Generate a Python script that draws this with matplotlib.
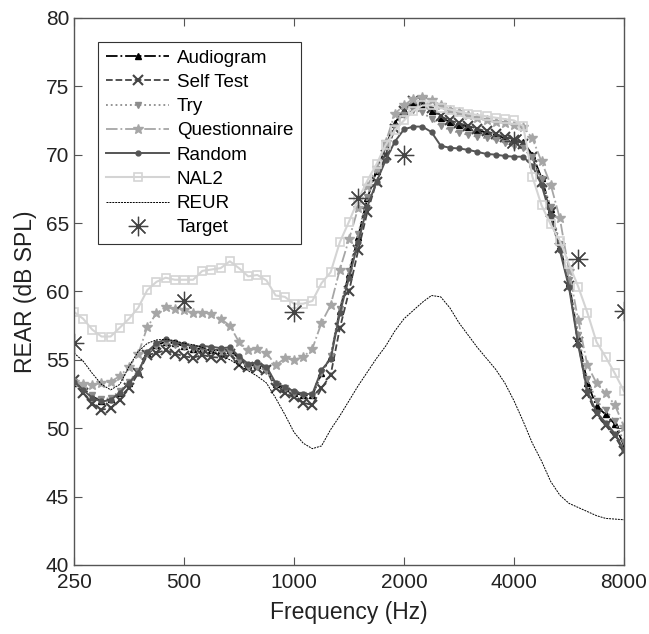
import numpy as np
import matplotlib
matplotlib.use('Agg')
import matplotlib.pyplot as plt

plt.rcParams['font.family'] = ['Liberation Sans', 'DejaVu Sans']

# 1/12-octave frequencies 250 .. 8000 Hz
freqs = [250 * 2 ** (k / 12) for k in range(61)]

audiogram = [53.3, 52.9, 52.3, 52.0, 52.1, 52.6, 53.3, 54.1, 55.5, 56.1,
             56.3, 56.2, 56.0, 55.8, 55.8, 55.7, 55.7, 55.7, 55.1, 54.6,
             54.6, 54.3, 53.2, 52.9, 52.6, 52.4, 52.4, 54.0, 55.2, 58.6,
             61.3, 64.0, 66.8, 68.8, 70.6, 72.3, 73.3, 73.8, 73.6, 73.2,
             72.7, 72.4, 72.2, 72.05, 71.8, 71.6, 71.45, 71.2, 71.0, 70.9,
             70.0, 68.3, 66.0, 63.3, 60.6, 56.6, 53.3, 51.6, 51.0, 50.3,
             48.7]
self_test = [53.5, 52.55, 51.8, 51.35, 51.45, 52.05, 52.9, 54.0, 55.35, 55.5,
             55.7, 55.45, 55.25, 55.15, 55.35, 55.2, 55.15, 55.4, 54.6, 54.5,
             54.4, 54.25, 52.9, 52.55, 52.25, 51.85, 51.7, 52.9, 53.9, 57.3,
             60.0, 63.0, 65.8, 68.0, 70.0, 71.9, 73.2, 73.9, 73.9, 73.4,
             72.8, 72.5, 72.3, 72.1, 71.9, 71.7, 71.5, 71.3, 71.1, 70.8,
             69.8, 68.0, 65.8, 63.2, 60.4, 56.3, 52.5, 51.0, 50.2, 49.4,
             48.3]
try_fit = [53.4, 53.0, 52.4, 52.1, 52.2, 52.7, 53.4, 54.2, 55.5, 56.0,
           56.2, 56.1, 55.9, 55.8, 55.8, 55.7, 55.6, 55.6, 55.0, 54.5,
           54.5, 54.2, 53.2, 52.9, 52.6, 52.4, 52.4, 54.0, 55.3, 58.7,
           61.5, 64.2, 66.9, 68.9, 70.6, 72.0, 72.9, 73.3, 73.1, 72.6,
           72.1, 71.8, 71.6, 71.45, 71.3, 71.2, 71.1, 70.85, 70.6, 70.5,
           69.8, 68.2, 66.2, 63.5, 60.8, 56.8, 53.6, 52.0, 51.3, 50.5,
           49.0]
questionnaire = [53.4, 53.25, 53.15, 53.3, 53.4, 53.8, 54.5, 55.4, 57.4, 58.4,
                 58.85, 58.7, 58.65, 58.4, 58.45, 58.35, 58.0, 57.5, 56.3, 55.7,
                 55.8, 55.5, 54.6, 55.1, 55.0, 55.2, 55.8, 57.7, 59.0, 61.6,
                 63.8, 66.1, 67.7, 69.0, 70.9, 73.0, 73.6, 74.1, 74.2, 74.0,
                 73.6, 73.3, 73.1, 72.9, 72.7, 72.5, 72.4, 72.3, 72.2, 72.05,
                 71.2, 69.5, 67.8, 65.35, 61.5, 57.9, 54.6, 53.3, 52.55, 51.7,
                 50.1]
random_fit = [53.4, 52.8, 52.2, 51.95, 52.05, 52.6, 53.3, 54.05, 55.6, 56.2,
              56.5, 56.3, 56.15, 55.95, 56.0, 55.95, 55.85, 55.9, 55.25, 54.7,
              54.8, 54.5, 53.3, 53.0, 52.7, 52.5, 52.5, 54.25, 55.05, 58.4,
              61.0, 63.6, 66.2, 68.0, 69.6, 70.95, 71.85, 72.05, 72.05, 71.65,
              70.65, 70.5, 70.45, 70.35, 70.2, 70.05, 70.0, 69.9, 69.85, 69.85,
              69.2, 67.8, 65.5, 63.0, 60.3, 56.1, 52.7, 51.15, 50.4, 49.6,
              48.4]
nal2 = [58.5, 58.0, 57.2, 56.7, 56.7, 57.35, 58.0, 58.8, 60.1, 60.7,
        61.0, 60.85, 60.85, 60.85, 61.5, 61.6, 61.7, 62.2, 61.7, 61.1,
        61.2, 60.8, 59.7, 59.6, 59.1, 59.1, 59.3, 60.6, 61.4, 63.6,
        65.1, 66.7, 68.1, 69.3, 70.7, 71.8, 72.5, 73.2, 73.6, 73.6,
        73.4, 73.3, 73.15, 73.0, 72.9, 72.8, 72.7, 72.6, 72.5, 72.1,
        68.4, 66.3, 64.9, 63.7, 62.0, 60.35, 58.45, 56.3, 55.2, 54.0,
        52.7]
reur = [55.5, 54.9, 54.0, 53.2, 52.8, 53.2, 54.5, 55.6, 56.2, 56.45,
        56.5, 56.4, 56.2, 56.1, 55.9, 55.6, 55.3, 55.0, 54.6, 54.2,
        53.8, 53.3, 52.2, 51.0, 49.7, 48.9, 48.5, 48.7, 49.9, 50.9,
        52.0, 53.1, 54.1, 55.1, 56.0, 57.1, 58.0, 58.6, 59.2, 59.7,
        59.6, 58.8, 57.7, 56.8, 55.9, 55.1, 54.3, 53.3, 52.0, 50.5,
        48.9, 47.6, 46.1, 45.1, 44.5, 44.2, 43.9, 43.6, 43.4, 43.35,
        43.3]

target_freqs = [250, 500, 1000, 1500, 2000, 4000, 6000, 8000]
target_vals = [56.2, 59.3, 58.5, 66.8, 70.0, 71.0, 62.4, 58.6]

xtick_vals = [250, 500, 1000, 2000, 4000, 8000]

fig = plt.figure(figsize=(6.49, 6.34), dpi=100)
ax = fig.add_axes([0.114, 0.109, 0.8475, 0.8628])

ax.plot(freqs, audiogram, color='black', linestyle='-.', linewidth=1.3,
        marker='^', markersize=4, label='Audiogram')
ax.plot(freqs, self_test, color='#444444', linestyle='--', linewidth=1.3,
        marker='x', markersize=7, markeredgewidth=1.5, label='Self Test')
ax.plot(freqs, try_fit, color='#8c8c8c', linestyle=':', linewidth=1.3,
        marker='v', markersize=4.5, label='Try')
ax.plot(freqs, questionnaire, color='#a6a6a6', linestyle='-.', linewidth=1.3,
        marker='*', markersize=7, label='Questionnaire')
ax.plot(freqs, random_fit, color='#555555', linestyle='-', linewidth=1.4,
        marker='o', markersize=3.5, label='Random')
ax.plot(freqs, nal2, color='#d4d4d4', linestyle='-', linewidth=1.5,
        marker='s', markersize=5.5, markerfacecolor='none', markeredgewidth=1.2,
        label='NAL2')
ax.plot(freqs, reur, color='black', linestyle=(0, (2, 1)), linewidth=0.7,
        label='REUR')
ax.plot(target_freqs, target_vals, color='#444444', linestyle='none',
        marker=(8, 2, 0), markersize=14, markeredgewidth=0.9, label='Target')

ax.set_xscale('log', base=2)
ax.set_xlim(250, 8000)
ax.set_ylim(40, 80)
ax.set_xticks(xtick_vals)
ax.set_xticklabels([str(v) for v in xtick_vals])
ax.xaxis.set_minor_locator(matplotlib.ticker.NullLocator())
ax.set_yticks(np.arange(40, 81, 5))

ax.tick_params(direction='in', length=6, width=0.8, labelsize=15,
               top=True, right=True, colors='#555555', labelcolor='#222222')
ax.tick_params(axis='x', pad=6)
for s in ax.spines.values():
    s.set_color('#555555')
    s.set_linewidth(1.0)

ax.set_xlabel('Frequency (Hz)', fontsize=16.5, color='#222222', labelpad=6)
ax.set_ylabel('REAR (dB SPL)', fontsize=16.5, color='#222222', labelpad=6)

leg = ax.legend(loc='upper left', bbox_to_anchor=(0.044, 0.956), borderaxespad=0,
                fontsize=13.5, handlelength=3.4, labelspacing=0.38,
                fancybox=False, framealpha=1, edgecolor='#333333',
                borderpad=0.4, handletextpad=0.4)
leg.get_frame().set_linewidth(0.8)

fig.savefig('out.png', dpi=100)
